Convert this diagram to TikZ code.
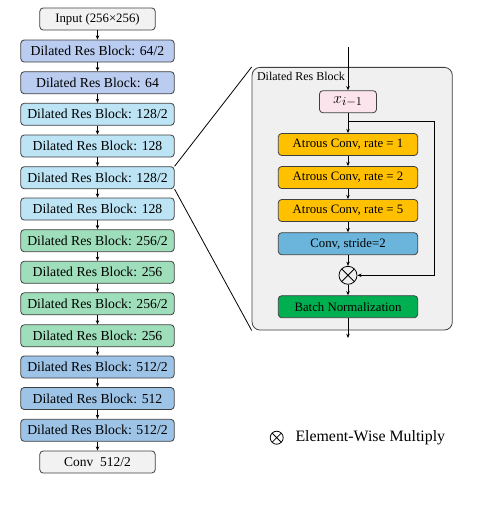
\documentclass[tikz,border=0pt]{standalone}
\usepackage{fontspec}
\setmainfont{Liberation Serif}
\usetikzlibrary{arrows.meta}

\definecolor{blkGray}{RGB}{242,242,242}
\definecolor{blkLav}{RGB}{186,204,240}
\definecolor{blkCyan}{RGB}{189,228,245}
\definecolor{blkGreen}{RGB}{158,222,186}
\definecolor{blkBlue}{RGB}{157,195,230}
\definecolor{atrOrange}{RGB}{255,192,0}
\definecolor{convBlue}{RGB}{107,181,220}
\definecolor{bnGreen}{RGB}{0,176,80}
\definecolor{xPink}{RGB}{252,228,236}
\definecolor{pnlGray}{RGB}{240,240,240}
\definecolor{edgeGray}{RGB}{64,64,64}

\tikzset{every picture/.style={line width=0.75pt}}
\tikzset{
  resblk/.style={draw=edgeGray, line width=0.6pt, rounded corners=2.5pt, minimum width=115pt, minimum height=16.5pt, inner sep=0pt, font=\fontsize{10.3}{12}\selectfont},
  ioblk/.style={resblk, fill=blkGray, minimum width=86.5pt},
  inblk/.style={resblk, minimum width=104.5pt, font=\fontsize{9.6}{11}\selectfont},
  flow/.style={-{Stealth[length=3.2pt,width=2.6pt]}, line width=0.5pt},
  zoomln/.style={line width=0.6pt},
  mulnode/.style={circle, draw, line width=0.6pt, inner sep=0pt, minimum size=13.5pt,
    path picture={\draw[line width=0.6pt] (path picture bounding box.north west) -- (path picture bounding box.south east) (path picture bounding box.north east) -- (path picture bounding box.south west);}}
}

\begin{document}
\begin{tikzpicture}[x=0.75pt,y=0.75pt,yscale=-1,xscale=1]
	\path (0,0) rectangle (490,515); %diagram size

	%Left column
	\node [ioblk] (inp) at (97.5,19) {\fontsize{9.6}{11}\selectfont Input (256×256)};
	\node [resblk, fill=blkLav] (b1) at (97.5,51) {Dilated Res Block: 64/2};
	\node [resblk, fill=blkLav] (b2) at (97.5,82.7) {Dilated Res Block: 64};
	\node [resblk, fill=blkCyan] (b3) at (97.5,114.3) {Dilated Res Block: 128/2};
	\node [resblk, fill=blkCyan] (b4) at (97.5,146) {Dilated Res Block: 128};
	\node [resblk, fill=blkCyan] (b5) at (97.5,177.7) {Dilated Res Block: 128/2};
	\node [resblk, fill=blkCyan] (b6) at (97.5,209) {Dilated Res Block: 128};
	\node [resblk, fill=blkGreen] (b7) at (97.5,240.7) {Dilated Res Block: 256/2};
	\node [resblk, fill=blkGreen] (b8) at (97.5,272.3) {Dilated Res Block: 256};
	\node [resblk, fill=blkGreen] (b9) at (97.5,303.8) {Dilated Res Block: 256/2};
	\node [resblk, fill=blkGreen] (b10) at (97.5,335.8) {Dilated Res Block: 256};
	\node [resblk, fill=blkBlue] (b11) at (97.5,367) {Dilated Res Block: 512/2};
	\node [resblk, fill=blkBlue] (b12) at (97.5,398.5) {Dilated Res Block: 512};
	\node [resblk, fill=blkBlue] (b13) at (97.5,430.3) {Dilated Res Block: 512/2};
	\node [ioblk] (outc) at (97.5,462) {\fontsize{10.1}{12}\selectfont Conv\ \ 512/2};

	\foreach \a/\b in {inp/b1,b1/b2,b2/b3,b3/b4,b4/b5,b5/b6,b6/b7,b7/b8,b8/b9,b9/b10,b10/b11,b11/b12,b12/b13,b13/outc}
		\draw [flow] (\a) -- (\b);

	%Detail panel
	\node [draw=edgeGray, fill=pnlGray, line width=0.6pt, rounded corners=6pt, minimum width=150.2pt, minimum height=197pt] (pnl) at (352.2,198.7) {};
	\node [anchor=north west, inner sep=0pt, font=\fontsize{9}{11}\selectfont] (pnltitle) at (256.5,72) {Dilated Res Block};

	%Zoom lines
	\draw [zoomln] (b5.north east) -- (pnl.north west);
	\draw [zoomln] (b5.south east) -- (pnl.south west);

	%Inner blocks
	\node [inblk, fill=xPink, minimum width=42.75pt, font=\fontsize{12.5}{14}\selectfont] (xin) at (348,101.7) {$x_{i-1}$};
	\node [inblk, fill=atrOrange] (a1) at (348,144.5) {Atrous Conv, rate = 1};
	\node [inblk, fill=atrOrange] (a2) at (348,177.5) {Atrous Conv, rate = 2};
	\node [inblk, fill=atrOrange] (a5) at (348,210.5) {Atrous Conv, rate = 5};
	\node [inblk, fill=convBlue] (cs) at (348,243.7) {Conv, stride=2};
	\node [mulnode] (mul) at (348,275.3) {};
	\node [inblk, fill=bnGreen] (bn) at (348,306.7) {Batch Normalization};

	\coordinate (entry) at (348,47);
	\coordinate (split) at (348,121.7);
	\coordinate (skip) at (434,121.7);
	\coordinate (exit) at (348,338);

	\draw [flow] (entry) -- (xin);
	\draw [flow] (xin) -- (a1);
	\draw [flow] (a1) -- (a2);
	\draw [flow] (a2) -- (a5);
	\draw [flow] (a5) -- (cs);
	\draw [flow] (cs) -- (mul);
	\draw [flow] (mul) -- (bn);
	\draw [flow] (bn) -- (exit);
	\draw [flow] (split) -- (skip) |- (mul);

	%Legend
	\node [mulnode, minimum size=9.75pt] (lgmul) at (276.7,437.7) {};
	\node [anchor=west, inner sep=0pt, font=\fontsize{11.9}{14}\selectfont] (lgtxt) at (295,438) {Element-Wise Multiply};

\end{tikzpicture}
\end{document}
